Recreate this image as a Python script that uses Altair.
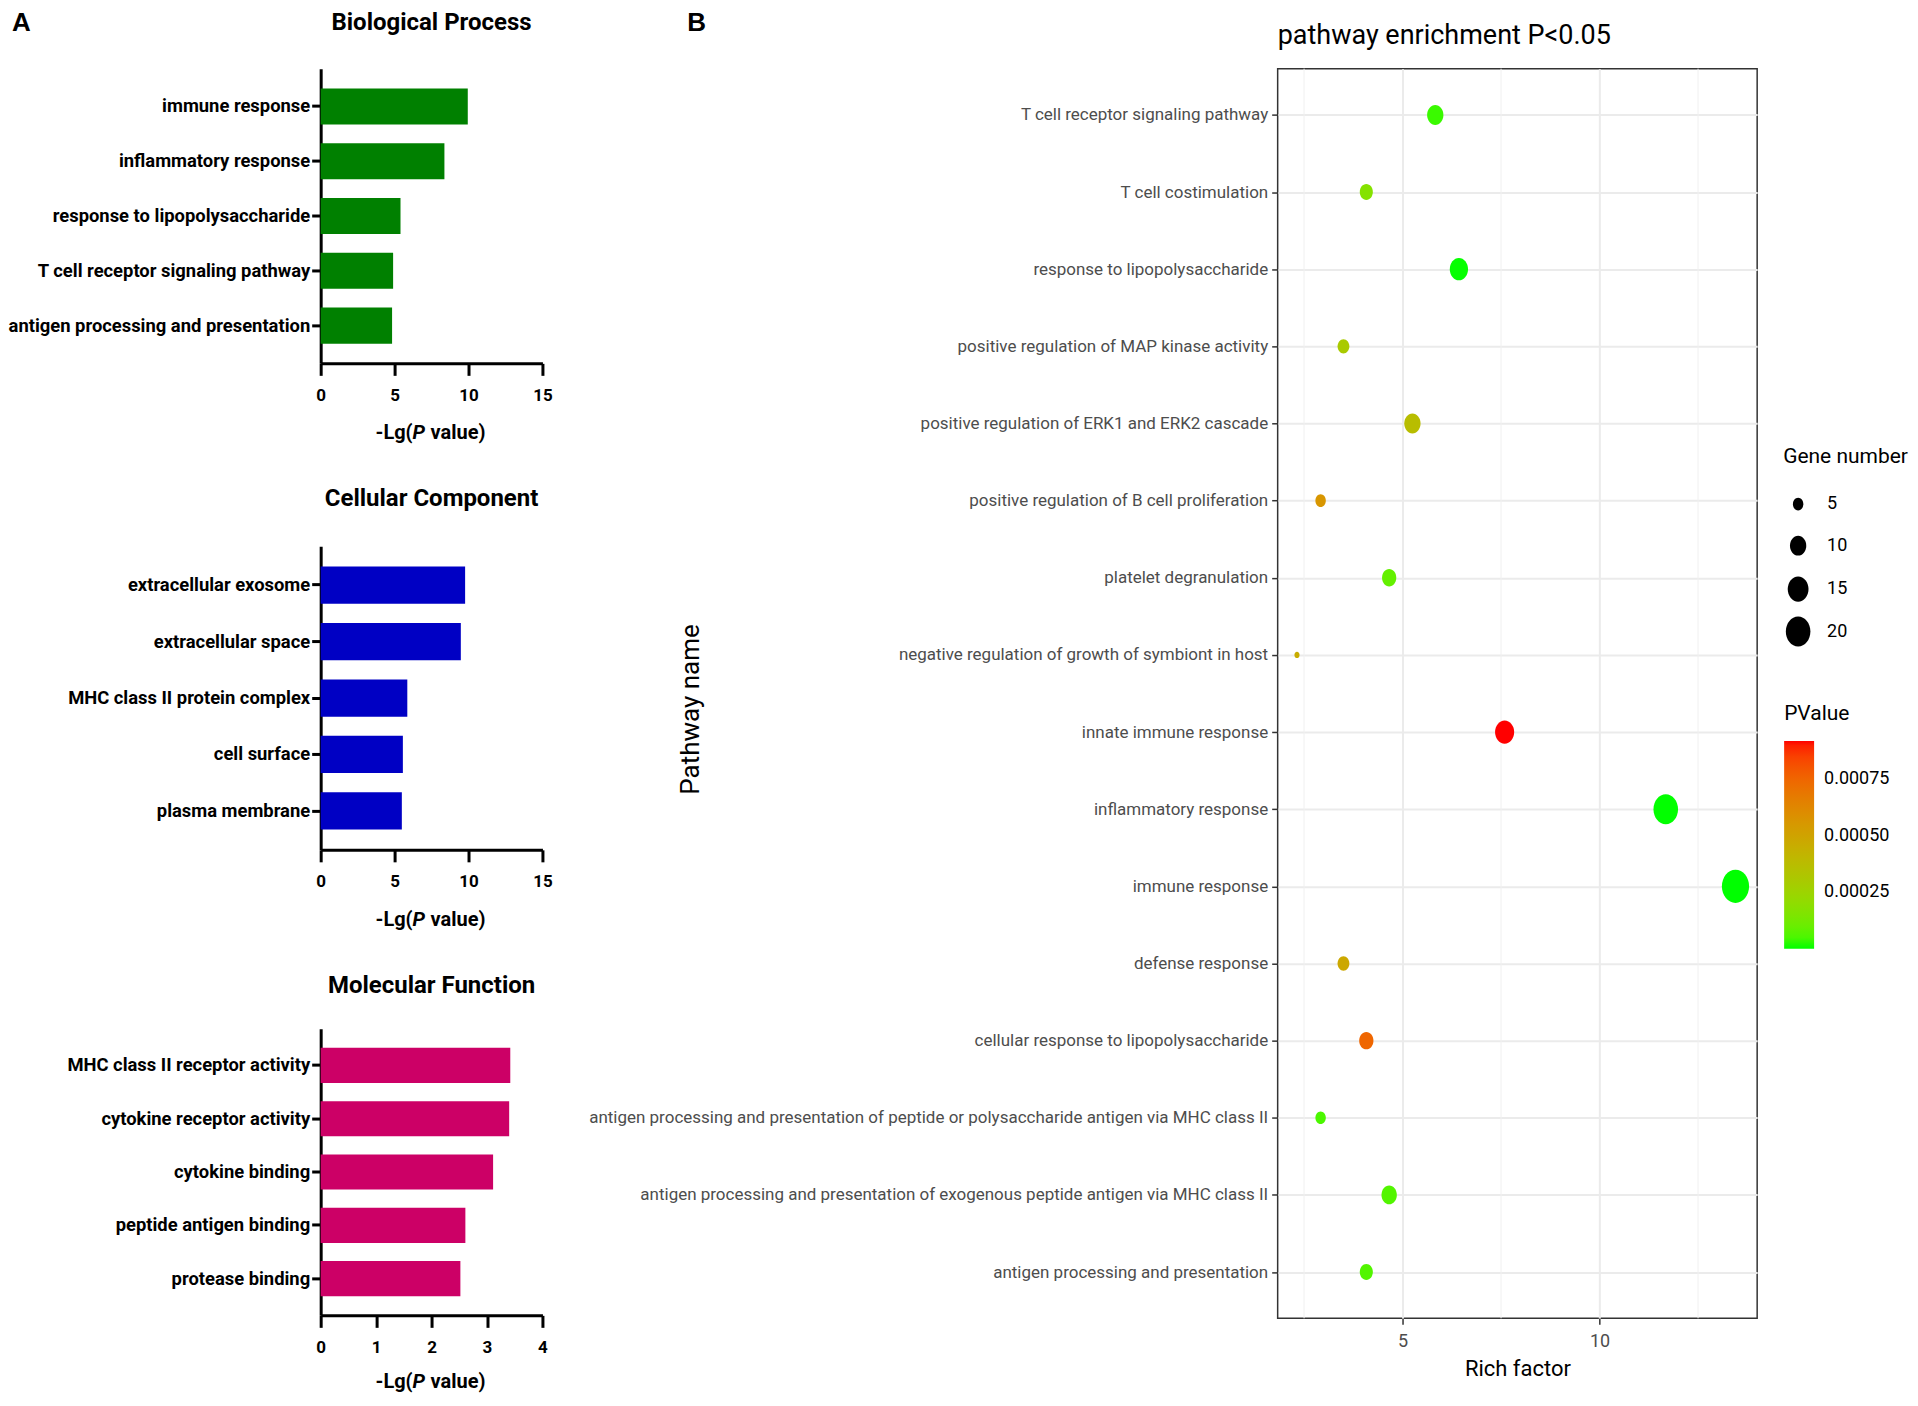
import altair as alt
import pandas as pd

FONT = "Roboto"
LETTER_FONT = "Liberation Sans"

# ---------------- Panel A data ----------------
bp_terms = ["immune response", "inflammatory response", "response to lipopolysaccharide",
            "T cell receptor signaling pathway", "antigen processing and presentation"]
bp_values = [9.95, 8.37, 5.40, 4.90, 4.83]

cc_terms = ["extracellular exosome", "extracellular space", "MHC class II protein complex",
            "cell surface", "plasma membrane"]
cc_values = [9.77, 9.48, 5.86, 5.56, 5.49]

mf_terms = ["MHC class II receptor activity", "cytokine receptor activity", "cytokine binding",
            "peptide antigen binding", "protease binding"]
mf_values = [3.42, 3.40, 3.11, 2.61, 2.52]

# ---------------- Panel B data ----------------
pathways = [
    "T cell receptor signaling pathway",
    "T cell costimulation",
    "response to lipopolysaccharide",
    "positive regulation of MAP kinase activity",
    "positive regulation of ERK1 and ERK2 cascade",
    "positive regulation of B cell proliferation",
    "platelet degranulation",
    "negative regulation of growth of symbiont in host",
    "innate immune response",
    "inflammatory response",
    "immune response",
    "defense response",
    "cellular response to lipopolysaccharide",
    "antigen processing and presentation of peptide or polysaccharide antigen via MHC class II",
    "antigen processing and presentation of exogenous peptide antigen via MHC class II",
    "antigen processing and presentation",
]
rich_factor = [5.83, 4.08, 6.43, 3.50, 5.25, 2.92, 4.66, 2.32, 7.59, 11.68, 13.45,
               3.50, 4.08, 2.92, 4.66, 4.08]
gene_number = [10, 7, 12, 6, 10, 5, 8, 2, 13, 20, 24, 6, 8, 5, 9, 7]
p_values = [0.00003, 0.00017, 0.000002, 0.00030, 0.00037, 0.00056, 0.00009, 0.00046,
            0.00092, 0.0000012, 0.0000008, 0.00048, 0.00075, 0.00005, 0.00006, 0.00006]
minor_grid = [2.5, 7.5, 12.5]

size_legend_values = [5, 10, 15, 20]
p_legend_values = [0.00025, 0.0005, 0.00075]

W_A = 222


def label_layer(text, x, y, size, weight="bold", align="left", font=FONT, italic=False,
                color="black"):
    df = pd.DataFrame({"t": [text]})
    kw = dict(align=align, baseline="alphabetic", font=font, fontWeight=weight,
              fontSize=size, color=color)
    if italic:
        kw["fontStyle"] = "italic"
    return alt.Chart(df).mark_text(**kw).encode(text="t:N", x=alt.value(x), y=alt.value(y))


def go_panel(terms, values, color, title, xmax, xticks, height, title_offset, xtitle_gap,
             letter=None):
    df = pd.DataFrame({"term": terms, "value": values})
    bars = alt.Chart(df).mark_bar(color=color).encode(
        y=alt.Y("term:N", sort=terms, title=None,
                scale=alt.Scale(paddingInner=0.34, paddingOuter=0.36),
                axis=alt.Axis(labelFont=FONT, labelFontWeight="bold", labelFontSize=18.4,
                              labelColor="black", tickColor="black", tickWidth=3, tickSize=9,
                              domainColor="black", domainWidth=3, labelPadding=2,
                              grid=False, labelLimit=500)),
        x=alt.X("value:Q", scale=alt.Scale(domain=[0, xmax], nice=False, zero=True),
                title=None,
                axis=alt.Axis(values=xticks, format="d", labelFont=FONT, labelFontWeight="bold",
                              labelFontSize=17, labelColor="black", tickColor="black",
                              tickWidth=3, tickSize=12, domainColor="black", domainWidth=3,
                              labelPadding=12, grid=False, labelFlush=False)),
    )
    ty = height + xtitle_gap
    layers = [
        bars,
        label_layer(title, W_A / 2, -title_offset, 24, align="center"),
        label_layer("-Lg(", 92, ty, 20, align="right"),
        label_layer("P", 92, ty, 20, italic=True),
        label_layer("value)", 110, ty, 20),
    ]
    if letter is not None:
        layers.append(label_layer(letter, -309, -38, 26, font=LETTER_FONT))
    return alt.layer(*layers).properties(width=W_A, height=height)


bp = go_panel(bp_terms, bp_values, "#008000", "Biological Process", 15, [0, 5, 10, 15], 295,
              title_offset=39, xtitle_gap=76, letter="A")
cc = go_panel(cc_terms, cc_values, "#0000C4", "Cellular Component", 15, [0, 5, 10, 15], 304,
              title_offset=40, xtitle_gap=76)
mf = go_panel(mf_terms, mf_values, "#CC0066", "Molecular Function", 4, [0, 1, 2, 3, 4], 287,
              title_offset=36, xtitle_gap=73)

left = alt.vconcat(bp, cc, mf, spacing=44)

# ---------------- Panel B ----------------
df_b = pd.DataFrame({"pathway": pathways, "rich": rich_factor,
                     "count": gene_number, "p": p_values})

ELLIPSE = "M -0.82 0 A 0.82 1 0 1 1 0.82 0 A 0.82 1 0 1 1 -0.82 0 Z"

xscale = alt.Scale(domain=[1.83, 14.0], nice=False, zero=False)

minor = alt.Chart(pd.DataFrame({"v": minor_grid})).mark_rule(
    color="#F0F0F0", strokeWidth=1).encode(x=alt.X("v:Q", scale=xscale))

points = alt.Chart(df_b).mark_point(filled=True, opacity=1, shape=ELLIPSE, strokeWidth=0).encode(
    x=alt.X("rich:Q", scale=xscale, title="Rich factor",
            axis=alt.Axis(values=[5, 10], labelFont=FONT, labelFontSize=18,
                          labelColor="#4D4D4D", tickColor="#333333", tickSize=6, tickWidth=1.5,
                          domain=False, grid=True, gridColor="#EBEBEB", gridWidth=2,
                          labelPadding=8, titleFont=FONT, titleFontSize=22,
                          titleFontWeight="normal", titleColor="black", titlePadding=8)),
    y=alt.Y("pathway:N", sort=pathways, title="Pathway name",
            scale=alt.Scale(type="point", padding=0.6),
            axis=alt.Axis(labelFont=FONT, labelFontSize=17, labelColor="#4D4D4D",
                          tickColor="#333333", tickSize=6, tickWidth=1.5, domain=False,
                          grid=True, gridColor="#EBEBEB", gridWidth=2, labelPadding=4,
                          labelLimit=900, titleFont=FONT, titleFontSize=26,
                          titleFontWeight="normal", titleColor="black",
                          titleX=-575, titleY=641)),
    size=alt.Size("count:Q",
                  scale=alt.Scale(type="linear", domain=[2, 5, 10, 15, 20],
                                  range=[40, 161, 396, 645, 900], clamp=False, zero=False),
                  legend=alt.Legend(title="Gene number", values=size_legend_values,
                                    orient="none", legendX=506, legendY=378,
                                    titleFont=FONT, titleFontSize=21, titleFontWeight="normal",
                                    titleColor="black", labelFont=FONT, labelFontSize=18,
                                    labelColor="black", symbolFillColor="black",
                                    symbolStrokeWidth=0, symbolOpacity=1, symbolType=ELLIPSE,
                                    gridAlign="all", rowPadding=10.5, labelOffset=14,
                                    titlePadding=28, padding=0)),
    color=alt.Color("p:Q",
                    scale=alt.Scale(range=["#00FF00", "#FF0000"], interpolate="lab", zero=False,
                                    nice=False),
                    legend=alt.Legend(title="PValue", values=p_legend_values, format=".5f",
                                      orient="none", legendX=507, legendY=635,
                                      gradientLength=208, gradientThickness=30,
                                      gradientStrokeWidth=0, titleFont=FONT, titleFontSize=21,
                                      titleFontWeight="normal", titleColor="black",
                                      labelFont=FONT, labelFontSize=18, labelColor="black",
                                      labelOffset=10, titlePadding=17, padding=0)),
)

right_panel = alt.layer(
    minor, points,
    label_layer("pathway enrichment P<0.05", 0, -25, 27, weight="normal"),
    label_layer("B", -591, -38, 26, font=LETTER_FONT),
).properties(
    width=480, height=1251,
    view=alt.ViewBackground(stroke="#333333", strokeWidth=1.5),
)

right = alt.vconcat(right_panel).resolve_scale(color="independent", size="independent")

chart = alt.hconcat(left, right, spacing=35).resolve_scale(
    color="independent", size="independent"
).properties(
    padding={"left": 0, "top": 0, "right": 0, "bottom": 0}, background="white"
).configure_view(stroke=None)

chart.save("out.html", embed_options={"renderer": "svg", "actions": False})
